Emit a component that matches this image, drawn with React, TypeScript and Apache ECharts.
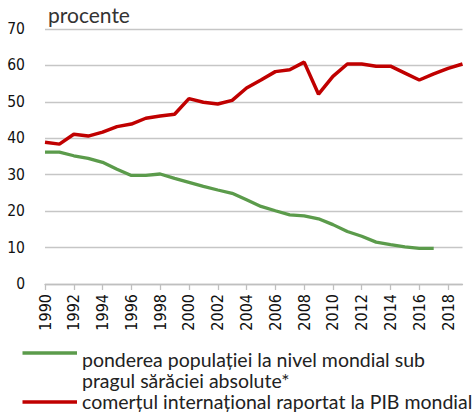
import React, { useEffect, useRef } from "react";
import * as echarts from "echarts";

const years: string[] = [
  "1990","1991","1992","1993","1994","1995","1996","1997","1998","1999",
  "2000","2001","2002","2003","2004","2005","2006","2007","2008","2009",
  "2010","2011","2012","2013","2014","2015","2016","2017","2018","2019",
];

const tradeShare: number[] = [
  38.9, 38.4, 41.1, 40.6, 41.7, 43.2, 43.9, 45.5, 46.1, 46.6,
  50.9, 49.9, 49.4, 50.4, 53.8, 56.0, 58.3, 58.8, 60.9, 52.1,
  57.0, 60.4, 60.4, 59.8, 59.8, 57.9, 56.0, 57.7, 59.2, 60.4,
];

const povertyShare: (number | null)[] = [
  36.2, 36.2, 35.2, 34.5, 33.4, 31.5, 29.8, 29.8, 30.2, 29.0,
  27.9, 26.8, 25.8, 24.9, 23.1, 21.3, 20.1, 19.0, 18.7, 17.9,
  16.3, 14.4, 13.1, 11.5, 10.8, 10.2, 9.8, 9.8, null, null,
];

const unitLabel = "procente";
const legendPoverty1 = "ponderea populației la nivel mondial sub";
const legendPoverty2 = "pragul sărăciei absolute*";
const legendTrade = "comerțul internațional raportat la PIB mondial";

const GREEN = "#5b9b4b";
const RED = "#c00000";
const NARROW = "'Liberation Sans Narrow', 'DejaVu Sans Condensed', sans-serif";
const TEXT_FONT = "Lato, 'Open Sans', sans-serif";

export default function App() {
  const ref = useRef<HTMLDivElement>(null);
  useEffect(() => {
    document.body.style.margin = "0";
    const chart = echarts.init(ref.current!, null, { renderer: "svg" });
    chart.setOption({
      animation: false,
      backgroundColor: "#ffffff",
      grid: { left: 45, right: 13.5, top: 29, bottom: 130, containLabel: false },
      xAxis: {
        type: "category",
        data: years,
        boundaryGap: false,
        axisLine: { lineStyle: { color: "#bfbfbf", width: 1.3 } },
        axisTick: { show: true, interval: 1, length: 6, lineStyle: { color: "#bfbfbf", width: 1.3 } },
        axisLabel: {
          interval: 1,
          rotate: 90,
          margin: 10,
          color: "#111111",
          fontSize: 16,
          fontFamily: NARROW,
        },
        splitLine: { show: false },
      },
      yAxis: {
        type: "value",
        min: 0,
        max: 70,
        interval: 10,
        axisLine: { show: false },
        axisTick: { show: false },
        axisLabel: { margin: 20, color: "#111111", fontSize: 15.5, fontFamily: NARROW },
        splitLine: { lineStyle: { color: "#c6c6c6", width: 1.3 } },
      },
      series: [
        {
          name: legendPoverty1 + " " + legendPoverty2,
          type: "line",
          data: povertyShare,
          showSymbol: false,
          symbol: "none",
          lineStyle: { color: GREEN, width: 3.3 },
          itemStyle: { color: GREEN },
          z: 3,
        },
        {
          name: legendTrade,
          type: "line",
          data: tradeShare,
          showSymbol: false,
          symbol: "none",
          lineStyle: { color: RED, width: 3.5 },
          itemStyle: { color: RED },
          z: 4,
        },
      ],
      graphic: [
        {
          type: "text",
          left: 48,
          top: 4,
          style: { text: unitLabel, font: `21px ${TEXT_FONT}`, fill: "#333333" },
        },
        {
          type: "line",
          shape: { x1: 22.5, y1: 353, x2: 77, y2: 353 },
          style: { stroke: GREEN, lineWidth: 3.5 },
        },
        {
          type: "line",
          shape: { x1: 22.5, y1: 402, x2: 77, y2: 402 },
          style: { stroke: RED, lineWidth: 3.5 },
        },
        {
          type: "text",
          x: 82,
          y: 359,
          style: { text: legendPoverty1, font: `19.5px ${TEXT_FONT}`, fill: "#222222", verticalAlign: "middle" },
        },
        {
          type: "text",
          x: 82,
          y: 380,
          style: { text: legendPoverty2, font: `19.5px ${TEXT_FONT}`, fill: "#222222", verticalAlign: "middle" },
        },
        {
          type: "text",
          x: 82,
          y: 401,
          style: { text: legendTrade, font: `19.5px ${TEXT_FONT}`, fill: "#222222", verticalAlign: "middle" },
        },
      ],
    });
    return () => chart.dispose();
  }, []);
  return (
    <div
      ref={ref}
      style={{ position: "absolute", left: 0, top: 0, width: 476, height: 414 }}
    />
  );
}
